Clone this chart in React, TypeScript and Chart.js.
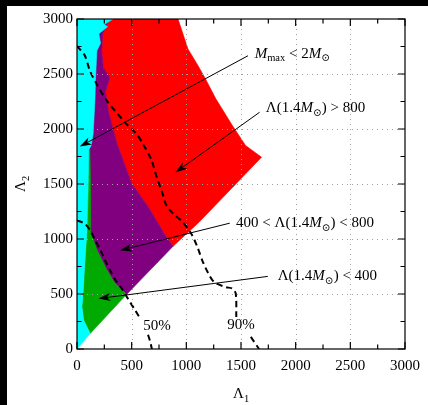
import React, { useEffect, useRef } from 'react';
import { Chart, registerables } from 'chart.js';
Chart.register(...registerables);

// ---------- data ----------
const majorTicks = [0, 500, 1000, 1500, 2000, 2500, 3000];
const minorTicks = [250, 750, 1250, 1750, 2250, 2750];

// region boundaries (Lambda1, Lambda2)
const redRegion: number[][] = [
  [300, 3000], [924, 3000], [1015, 2728], [1106, 2577], [1167, 2471], [1270, 2274], [1421, 2032],
  [1542, 1850], [1688, 1744], [1118, 1154], [879, 934], [818, 1017], [652, 1292], [500, 1505],
  [365, 1870], [290, 2150], [260, 2337], [300, 2470], [240, 2560], [227, 2712], [235, 2867], [300, 3000],
];
const purpleRegion: number[][] = [
  [448, 490], [879, 934], [818, 1017], [652, 1292], [500, 1505], [365, 1870], [290, 2150],
  [260, 2337], [300, 2470], [240, 2560], [227, 2712], [235, 2867], [300, 3000], [150, 3000],
  [100, 1500], [100, 1080], [182, 899], [273, 717], [345, 598], [439, 508], [448, 490],
];
const greenRegion: number[][] = [
  [121, 141], [448, 490], [439, 508], [345, 598], [273, 717], [182, 899], [121, 1080],
  [125, 1400], [118, 1810], [100, 1810], [91, 1080], [67, 717], [55, 500], [45, 384],
  [61, 261], [106, 170], [121, 141],
];
const cyanRegion: number[][] = [
  [0, 0], [121, 141], [106, 170], [61, 261], [45, 384], [55, 500], [67, 717], [91, 1080],
  [100, 1400], [108, 1810], [130, 1850], [148, 1960], [164, 2262], [170, 2470], [182, 2712],
  [215, 2780], [200, 2867], [280, 2930], [250, 2950], [330, 3000], [0, 3000],
];

// credible-region contours
const contour50a: number[][] = [
  [0, 1170], [70, 1140], [121, 1078], [160, 1000], [212, 905], [260, 800], [303, 715],
  [350, 630], [409, 550], [455, 475], [530, 355], [576, 280],
];
const contour50b: number[][] = [[650, 130], [670, 65], [685, 0]];
const contour90a: number[][] = [
  [0, 2755], [70, 2670], [118, 2530], [179, 2410], [270, 2260], [345, 2168], [452, 2047],
  [543, 1956], [600, 1870], [680, 1720], [730, 1560], [780, 1420], [818, 1305], [880, 1230],
  [960, 1160], [1045, 1048], [1100, 930], [1152, 790], [1200, 690], [1255, 608], [1361, 563],
  [1421, 549], [1452, 503], [1457, 291],
];
const contour90b: number[][] = [[1590, 110], [1665, 0]];

type Seg = { t: string; it?: boolean; sub?: boolean };
const labelTexts: Seg[][] = [
  [{ t: 'M', it: true }, { t: 'max', sub: true }, { t: ' < 2' }, { t: 'M', it: true }, { t: '\u2299', sub: true }],
  [{ t: '\u039B(1.4' }, { t: 'M', it: true }, { t: '\u2299', sub: true }, { t: ') > 800' }],
  [{ t: '400 < \u039B(1.4' }, { t: 'M', it: true }, { t: '\u2299', sub: true }, { t: ') < 800' }],
  [{ t: '\u039B(1.4' }, { t: 'M', it: true }, { t: '\u2299', sub: true }, { t: ') < 400' }],
];
const labelAt: number[][] = [[1625, 2695], [1727, 2200], [1455, 1153], [1836, 669]];
const arrowFrom: number[][] = [[1564, 2666], [1670, 2152], [1397, 1144], [1745, 660]];
const arrowTo: number[][] = [[25, 1840], [900, 1605], [394, 896], [197, 458]];
const contourLabels = ['50%', '90%'];
const contourLabelAt: number[][] = [[606, 215], [1375, 224]];

// ---------- helpers ----------
const FONT = '"Liberation Serif", "DejaVu Serif", serif';
const pts = (a: number[][]) => a.map(([x, y]) => ({ x, y }));

function drawRich(ctx: CanvasRenderingContext2D, segs: Seg[], x: number, cy: number) {
  const base = cy + 5;
  let cx = x;
  ctx.textAlign = 'left';
  ctx.textBaseline = 'alphabetic';
  for (const s of segs) {
    const size = s.sub ? 10.5 : 15;
    ctx.font = `${s.it ? 'italic ' : ''}${size}px ${FONT}`;
    ctx.fillText(s.t, cx, s.sub ? base + 3.5 : base);
    cx += ctx.measureText(s.t).width;
  }
}

function drawArrow(ctx: CanvasRenderingContext2D, x1: number, y1: number, x2: number, y2: number) {
  const a = Math.atan2(y2 - y1, x2 - x1);
  const dx = Math.cos(a), dy = Math.sin(a);
  const L = 12, W = 4, N = 8.5;
  ctx.beginPath();
  ctx.moveTo(x1, y1);
  ctx.lineTo(x2 - dx * N, y2 - dy * N);
  ctx.lineWidth = 1;
  ctx.strokeStyle = '#000';
  ctx.stroke();
  ctx.beginPath();
  ctx.moveTo(x2, y2);
  ctx.lineTo(x2 - dx * L - dy * W, y2 - dy * L + dx * W);
  ctx.lineTo(x2 - dx * N, y2 - dy * N);
  ctx.lineTo(x2 - dx * L + dy * W, y2 - dy * L - dx * W);
  ctx.closePath();
  ctx.fillStyle = '#000';
  ctx.fill();
}

const overlayPlugin = {
  id: 'overlay',
  beforeDraw(chart: any) {
    const ctx = chart.ctx;
    ctx.save();
    ctx.fillStyle = '#fff';
    ctx.fillRect(0, 0, chart.width, chart.height);
    ctx.restore();
  },
  afterDatasetsDraw(chart: any) {
    const ctx: CanvasRenderingContext2D = chart.ctx;
    const xs = chart.scales.x, ys = chart.scales.y;
    const { left, right, top, bottom } = chart.chartArea;
    ctx.save();
    // dotted grid
    ctx.strokeStyle = '#a0a0a0';
    ctx.lineWidth = 1;
    ctx.setLineDash([1, 4]);
    for (const v of majorTicks) {
      if (v === 0 || v === 3000) continue;
      const px = Math.round(xs.getPixelForValue(v)) + 0.5;
      ctx.beginPath(); ctx.moveTo(px, top); ctx.lineTo(px, bottom); ctx.stroke();
      const py = Math.round(ys.getPixelForValue(v)) + 0.5;
      ctx.beginPath(); ctx.moveTo(left, py); ctx.lineTo(right, py); ctx.stroke();
    }
    ctx.setLineDash([]);
    // frame and ticks
    ctx.strokeStyle = '#000';
    ctx.lineWidth = 1.2;
    ctx.strokeRect(left, top, right - left, bottom - top);
    const tick = (v: number, len: number) => {
      const px = xs.getPixelForValue(v);
      const py = ys.getPixelForValue(v);
      ctx.beginPath();
      ctx.moveTo(px, bottom); ctx.lineTo(px, bottom - len);
      ctx.moveTo(px, top); ctx.lineTo(px, top + len);
      ctx.moveTo(left, py); ctx.lineTo(left + len, py);
      ctx.moveTo(right, py); ctx.lineTo(right - len, py);
      ctx.stroke();
    };
    majorTicks.forEach((v) => tick(v, 7));
    minorTicks.forEach((v) => tick(v, 4.5));
    // arrows
    for (let i = 0; i < arrowFrom.length; i++) {
      drawArrow(ctx, xs.getPixelForValue(arrowFrom[i][0]), ys.getPixelForValue(arrowFrom[i][1]),
        xs.getPixelForValue(arrowTo[i][0]), ys.getPixelForValue(arrowTo[i][1]));
    }
    ctx.fillStyle = '#000';
    for (let i = 0; i < labelTexts.length; i++) {
      drawRich(ctx, labelTexts[i], xs.getPixelForValue(labelAt[i][0]), ys.getPixelForValue(labelAt[i][1]));
    }
    for (let i = 0; i < contourLabels.length; i++) {
      drawRich(ctx, [{ t: contourLabels[i] }], xs.getPixelForValue(contourLabelAt[i][0]), ys.getPixelForValue(contourLabelAt[i][1]));
    }
    // axis titles
    const cxm = (left + right) / 2;
    ctx.font = `15px ${FONT}`;
    const wL = ctx.measureText('\u039B').width;
    drawRich(ctx, [{ t: '\u039B' }, { t: '1', sub: true }], cxm - (wL + 5) / 2, bottom + 44);
    ctx.translate(left - 57, (top + bottom) / 2);
    ctx.rotate(-Math.PI / 2);
    drawRich(ctx, [{ t: '\u039B' }, { t: '2', sub: true }], -(wL + 5) / 2, 0);
    ctx.restore();
  },
};

const area = (data: number[][], color: string, order: number) => ({
  data: pts(data),
  fill: 'shape',
  backgroundColor: color,
  borderColor: color,
  borderWidth: 0.6,
  pointRadius: 0,
  tension: 0,
  order,
});
const dashed = (data: number[][]) => ({
  data: pts(data),
  fill: false,
  borderColor: '#000',
  borderWidth: 2,
  borderDash: [6, 4],
  pointRadius: 0,
  tension: 0.3,
  order: 0,
});

const plainTick = (v: any) => String(v);

export default function App() {
  const ref = useRef<HTMLCanvasElement>(null);
  useEffect(() => {
    document.body.style.margin = '0';
    const chart = new Chart(ref.current!, {
      type: 'line',
      data: {
        datasets: [
          dashed(contour50a) as any,
          dashed(contour50b),
          dashed(contour90a),
          dashed(contour90b),
          area(cyanRegion, '#00ffff', 1),
          area(greenRegion, '#00aa00', 2),
          area(purpleRegion, '#800080', 3),
          area(redRegion, '#ff0000', 4),
        ],
      },
      options: {
        animation: false,
        responsive: false,
        events: [],
        layout: { padding: { left: 0, top: 12, right: 21, bottom: 0 } },
        plugins: { legend: { display: false }, tooltip: { enabled: false } },
        scales: {
          x: {
            type: 'linear', min: 0, max: 3000,
            grid: { display: false, drawTicks: false },
            border: { display: false },
            ticks: { stepSize: 500, color: '#000', padding: 8, maxRotation: 0, callback: plainTick, font: { family: FONT, size: 15 } },
            afterFit: (s: any) => { s.height = 56; },
          },
          y: {
            type: 'linear', min: 0, max: 3000,
            grid: { display: false, drawTicks: false },
            border: { display: false },
            ticks: { stepSize: 500, color: '#000', padding: 4, callback: plainTick, font: { family: FONT, size: 15 } },
            afterFit: (s: any) => { s.width = 70; },
          },
        },
      } as any,
      plugins: [overlayPlugin],
    });
    return () => chart.destroy();
  }, []);
  return (
    <div style={{ position: 'relative', width: 428, height: 405, background: '#000' }}>
      <canvas ref={ref} width={421} height={399} style={{ position: 'absolute', left: 7, top: 6 }} />
    </div>
  );
}
